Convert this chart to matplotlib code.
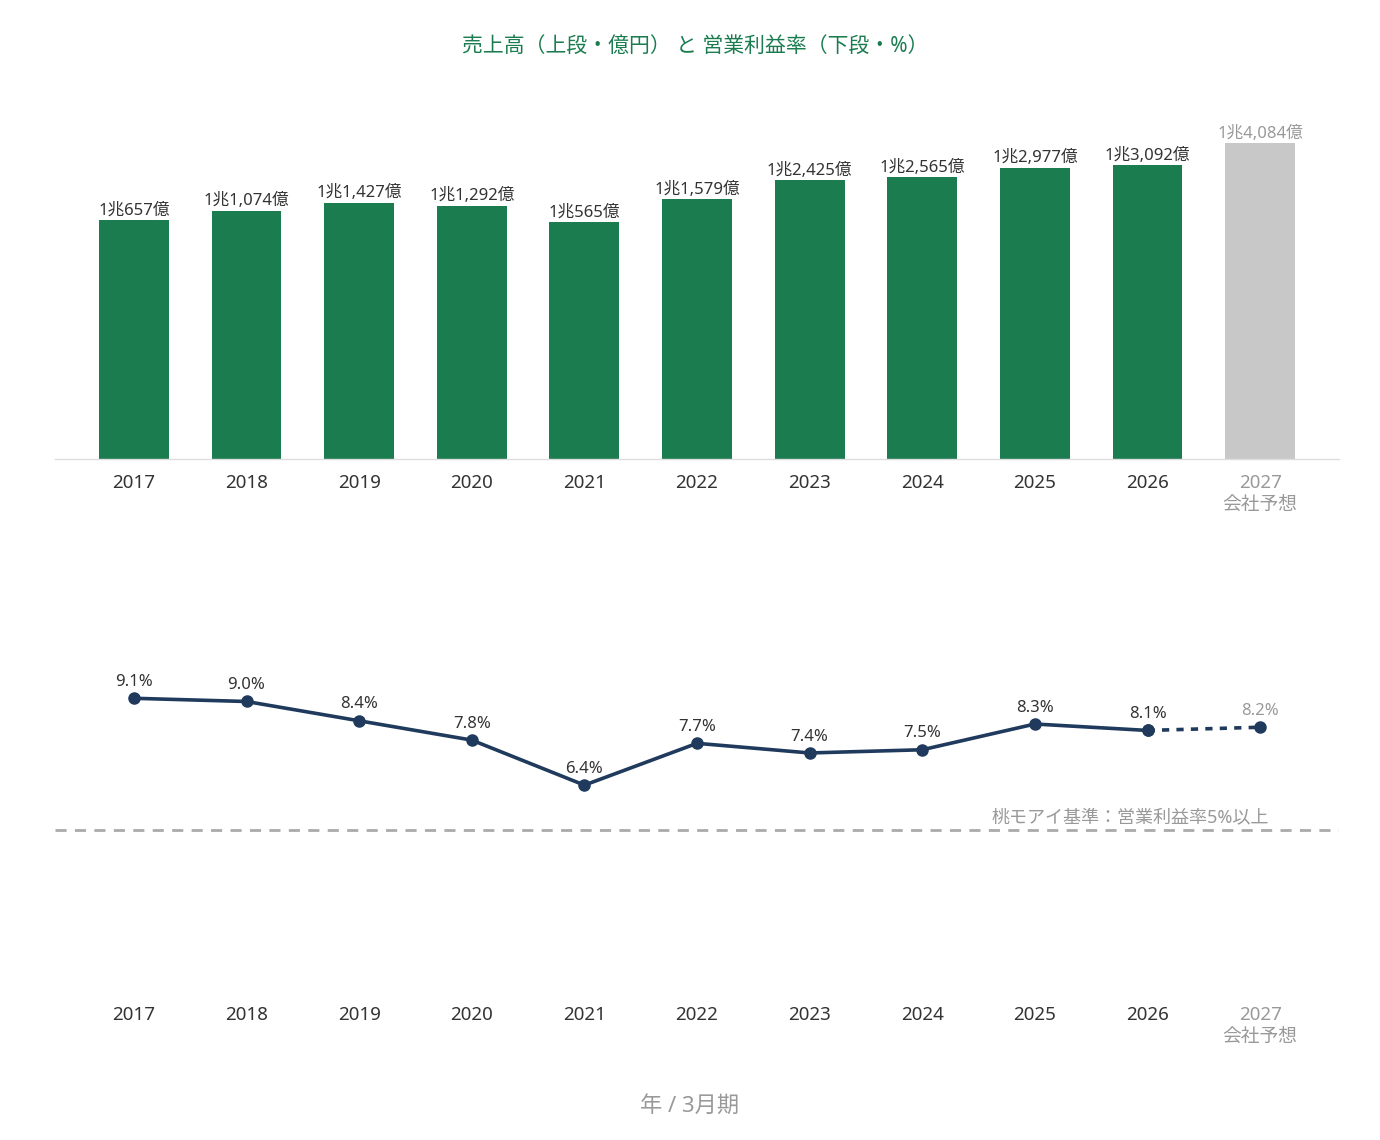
import matplotlib
matplotlib.use("Agg")
import matplotlib.pyplot as plt

plt.rcParams['font.family'] = ['Noto Sans', 'Noto Sans CJK JP', 'DejaVu Sans']

years = ['2017', '2018', '2019', '2020', '2021', '2022', '2023', '2024', '2025', '2026', '2027']
sales = [10657, 11074, 11427, 11292, 10565, 11579, 12425, 12565, 12977, 13092, 14084]
sales_labels = ['1兆657億', '1兆1,074億', '1兆1,427億', '1兆1,292億', '1兆565億', '1兆1,579億',
                '1兆2,425億', '1兆2,565億', '1兆2,977億', '1兆3,092億', '1兆4,084億']
margin = [9.1, 9.0, 8.4, 7.8, 6.4, 7.7, 7.4, 7.5, 8.3, 8.1, 8.2]
threshold = 5.0

GREEN = '#1b7c50'
GREY_BAR = '#c8c8c8'
NAVY = '#1f3a5c'
TXT = '#333333'
MUTED = '#999999'

fig = plt.figure(figsize=(13.8, 11.4), dpi=100)
x = list(range(len(years)))
xlim = (-0.70, len(years) - 1 + 0.70)
tick_labels = years[:-1] + [years[-1] + '\n会社予想']

# 上段: 売上高
ax1 = fig.add_axes([0.0399, 0.5974, 0.9304, 0.3149])
colors = [GREEN] * (len(years) - 1) + [GREY_BAR]
ax1.bar(x, sales, width=0.62, color=colors)
for i, (v, lab) in enumerate(zip(sales, sales_labels)):
    ax1.annotate(lab, (i, v), xytext=(0, 1), textcoords='offset points', ha='center', va='bottom',
                 fontsize=12, color=MUTED if i == len(years) - 1 else TXT)
ax1.set_xlim(*xlim)
ax1.set_ylim(0, 16000)
ax1.set_yticks([])
for s in ['top', 'right', 'left']:
    ax1.spines[s].set_visible(False)
ax1.spines['bottom'].set_color('#dddddd')
ax1.spines['bottom'].set_linewidth(1)
ax1.set_xticks(x)
ax1.set_xticklabels(tick_labels, fontsize=13.5, linespacing=1.35)
ax1.tick_params(axis='x', length=0, pad=10.5)
for i, t in enumerate(ax1.get_xticklabels()):
    t.set_color(MUTED if i == len(years) - 1 else TXT)

# 下段: 営業利益率
ax2 = fig.add_axes([0.0399, 0.1307, 0.9304, 0.3386])
ax2.plot(x[:-1], margin[:-1], color=NAVY, lw=2.6, marker='o', ms=8, zorder=3)
ax2.plot(x[-2:], margin[-2:], color=NAVY, lw=2.6, ls=(0, (2, 2)), marker='o', ms=8, zorder=3)
for i, v in enumerate(margin):
    ax2.annotate(f'{v:.1f}%', (i, v), xytext=(0, 6), textcoords='offset points', ha='center', va='bottom',
                 fontsize=12, color=MUTED if i == len(years) - 1 else TXT)
ax2.axhline(threshold, color='#aaaaaa', lw=2, ls=(0, (4, 3)), zorder=1)
ax2.text(xlim[1] - 0.62, threshold + 0.13, '桃モアイ基準：営業利益率5%以上', ha='right', va='bottom',
         fontsize=13, color=MUTED)
ax2.set_xlim(*xlim)
ax2.set_ylim(0, 12)
ax2.set_yticks([])
for s in ax2.spines.values():
    s.set_visible(False)
ax2.set_xticks(x)
ax2.set_xticklabels(tick_labels, fontsize=13.5, linespacing=1.35)
ax2.tick_params(axis='x', length=0, pad=10.5)
for i, t in enumerate(ax2.get_xticklabels()):
    t.set_color(MUTED if i == len(years) - 1 else TXT)

fig.text(0.5035, 1 - 46 / 1140, '売上高（上段・億円） と 営業利益率（下段・%）', ha='center', va='center',
         fontsize=15, color=GREEN)
fig.text(0.5, 1 - 1106 / 1140, '年 / 3月期', ha='center', va='center', fontsize=16, color=MUTED)

fig.savefig('out.png', dpi=100)
